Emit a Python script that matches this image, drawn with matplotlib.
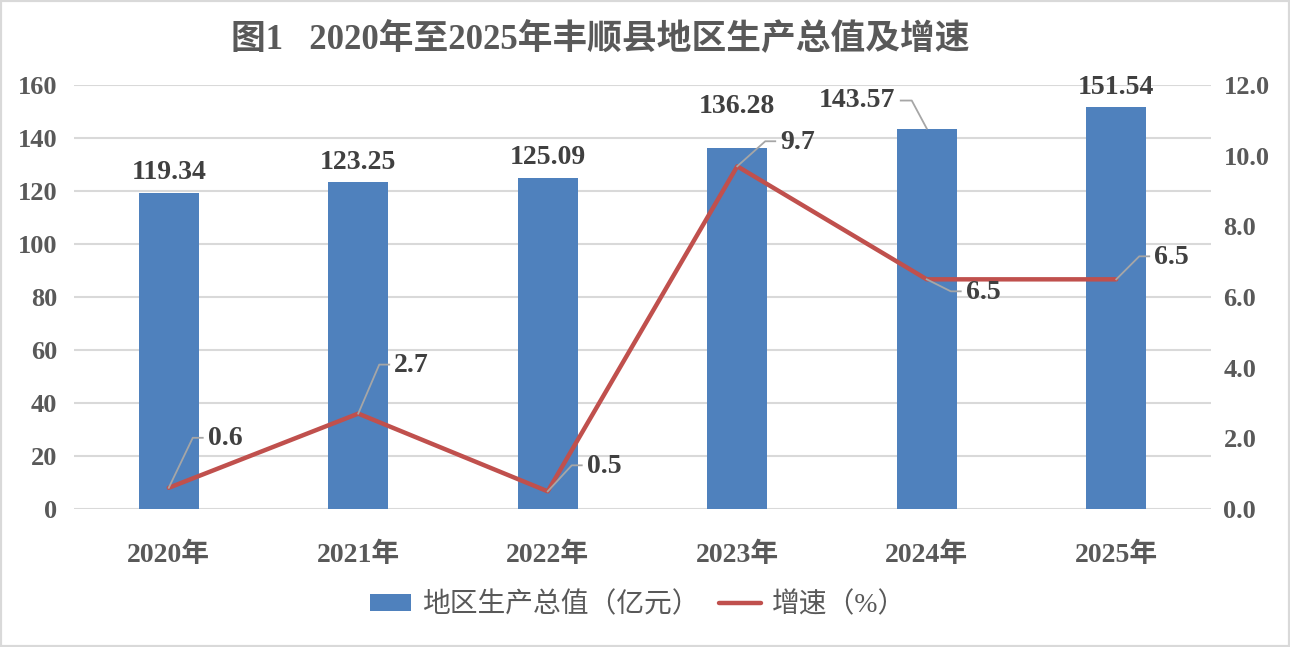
import matplotlib
matplotlib.use("Agg")
import matplotlib.pyplot as plt
from matplotlib.lines import Line2D
from matplotlib.patches import Rectangle
import numpy as np

# 数据
years = ["2020年", "2021年", "2022年", "2023年", "2024年", "2025年"]
gdp = [119.34, 123.25, 125.09, 136.28, 143.57, 151.54]
growth = [0.6, 2.7, 0.5, 9.7, 6.5, 6.5]
title = "图1   2020年至2025年丰顺县地区生产总值及增速"

FONTS = ["Liberation Serif", "Noto Sans CJK SC"]
plt.rcParams["font.family"] = FONTS

BLUE = "#4F81BD"
RED = "#C0504D"
GRID = "#D9D9D9"
TXT = "#595959"
LBL = "#404040"
LEAD = "#A6A6A6"

fig = plt.figure(figsize=(12.9, 6.47), dpi=100)
ax = fig.add_axes([74 / 1290, 138 / 647, 1137 / 1290, 424 / 647])
ax2 = ax.twinx()

x = np.arange(len(years))
ax.bar(x, gdp, width=0.315, color=BLUE, zorder=2, label="地区生产总值（亿元）")
ax2.plot(x, growth, color=RED, lw=3.2, solid_capstyle="round", zorder=3, label="增速（%）")

ax.set_xlim(-0.5, len(years) - 0.5)
ax.set_ylim(0, 160)
ax.set_yticks(np.arange(0, 161, 20))
ax2.set_ylim(0, 12)
ax2.set_yticks(np.arange(0, 12.1, 2))
ax2.set_yticklabels([f"{v:.1f}" for v in np.arange(0, 12.1, 2)])
ax.set_xticks(x)
ax.set_xticklabels(years)

ax.grid(axis="y", color=GRID, lw=1.5, zorder=0)
ax.set_axisbelow(True)
for a in (ax, ax2):
    for s in a.spines.values():
        s.set_visible(False)
    a.tick_params(length=0, colors=TXT)
ax.tick_params(axis="y", pad=12, labelsize=19)
ax2.tick_params(axis="y", pad=9, labelsize=19)
ax.tick_params(axis="x", pad=24, labelsize=20)
for t in ax.get_xticklabels() + ax.get_yticklabels() + ax2.get_yticklabels():
    t.set_fontweight("bold")
    t.set_color(TXT)

fig.canvas.draw()


def px(a, xv, yv):
    return a.transData.transform((xv, yv))


def leader(pts):
    xs, ys = zip(*pts)
    fig.add_artist(Line2D(xs, ys, transform=None, color=LEAD, lw=1.3, zorder=5))


# 柱形数据标签
bar_off = [20, 20, 20, 41, None, 20]
for i, v in enumerate(gdp):
    bx, by = px(ax, x[i], v)
    if bar_off[i] is not None:
        fig.text(bx, by + bar_off[i], f"{v:.2f}", transform=None, ha="center", va="center",
                 fontsize=20, fontweight="bold", color=LBL)
    else:
        ex, ey = bx - 15, by + 28
        leader([(bx, by), (ex, ey), (ex - 11, ey)])
        fig.text(ex - 17, ey, f"{v:.2f}", transform=None, ha="right", va="center",
                 fontsize=20, fontweight="bold", color=LBL)

# 折线数据标签
line_off = [(24, 50), (21, 49), (24, 26), (28, 25), (24, -12), (23, 23)]
for i, v in enumerate(growth):
    lx, ly = px(ax2, x[i], v)
    dx, dy = line_off[i]
    ex, ey = lx + dx, ly + dy
    leader([(lx, ly), (ex, ey), (ex + 10, ey)])
    fig.text(ex + 15, ey - 1, f"{v:.1f}", transform=None, ha="left", va="center",
             fontsize=20, fontweight="bold", color=LBL)

fig.text(600 / 1290, 1 - 40 / 647, title, ha="center", va="center",
         fontsize=25, fontweight="bold", color=TXT)

h1, l1 = ax.get_legend_handles_labels()
h2, l2 = ax2.get_legend_handles_labels()
leg = fig.legend(h1 + h2, l1 + l2, loc="center", bbox_to_anchor=(638 / 1290, 1 - 605 / 647),
                 ncol=2, frameon=False, fontsize=20, handlelength=1.5, handleheight=0.6,
                 handletextpad=0.4, columnspacing=0.7)
for t in leg.get_texts():
    t.set_color(TXT)

fig.add_artist(Rectangle((0, 0), 1, 1, transform=fig.transFigure, fill=False,
                         edgecolor=GRID, lw=3, zorder=10))

fig.savefig("out.png", dpi=100)
